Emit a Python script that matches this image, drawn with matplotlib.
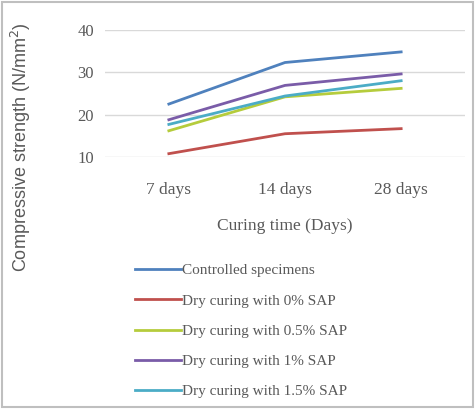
import matplotlib
matplotlib.use("Agg")
import matplotlib.pyplot as plt

days = ["7 days", "14 days", "28 days"]
controlled = [22.5, 32.3, 34.8]
sap_0 = [10.8, 15.5, 16.7]
sap_05 = [16.2, 24.2, 26.2]
sap_1 = [18.8, 26.9, 29.6]
sap_15 = [17.7, 24.4, 28.0]

labels = ["Controlled specimens", "Dry curing with 0% SAP", "Dry curing with 0.5% SAP",
          "Dry curing with 1% SAP", "Dry curing with 1.5% SAP"]
colors = ["#4F81BD", "#C0504D", "#B5CC3C", "#7A5CA8", "#4BACC6"]
series = [controlled, sap_0, sap_05, sap_1, sap_15]

plt.rcParams["font.family"] = ["Liberation Serif", "DejaVu Serif"]
text_col = "#595959"

fig = plt.figure(figsize=(4.75, 4.09), dpi=100)
ax = fig.add_axes([0.221, 0.616, 0.758, 0.311])

x = range(len(days))
for vals, lab, col in zip(series, labels, colors):
    ax.plot(x, vals, color=col, linewidth=2, label=lab)

ax.set_ylim(10, 40)
ax.set_yticks([10, 20, 30, 40])
ax.set_xlim(-0.55, 2.55)
ax.set_xticks(list(x))
ax.set_xticklabels(days)
ax.grid(axis="y", color="#D9D9D9", linewidth=1)
ax.set_axisbelow(True)
for s in ax.spines.values():
    s.set_visible(False)
ax.tick_params(axis="x", length=0, labelsize=12.5, colors=text_col, pad=18)
ax.tick_params(axis="y", length=0, labelsize=12, colors=text_col, pad=8)
ax.set_xlabel("Curing time (Days)", fontsize=12.5, color=text_col, labelpad=14)

fig.text(0.045, 0.64, "Compressive strength (N/mm$^2$)", rotation=90, ha="center",
         va="center", fontsize=13, color=text_col, family="Liberation Sans")

leg = fig.legend(loc="upper left", bbox_to_anchor=(0.284, 0.355), frameon=False,
                 fontsize=11, handlelength=3.0, labelspacing=1.08, handletextpad=0.1,
                 borderpad=0, borderaxespad=0)
for t in leg.get_texts():
    t.set_color(text_col)

fig.patches.append(plt.Rectangle((0.005, 0.005), 0.99, 0.99, transform=fig.transFigure,
                                 fill=False, edgecolor="#BFBFBF", linewidth=1.5))

fig.savefig("out.png", dpi=100)
